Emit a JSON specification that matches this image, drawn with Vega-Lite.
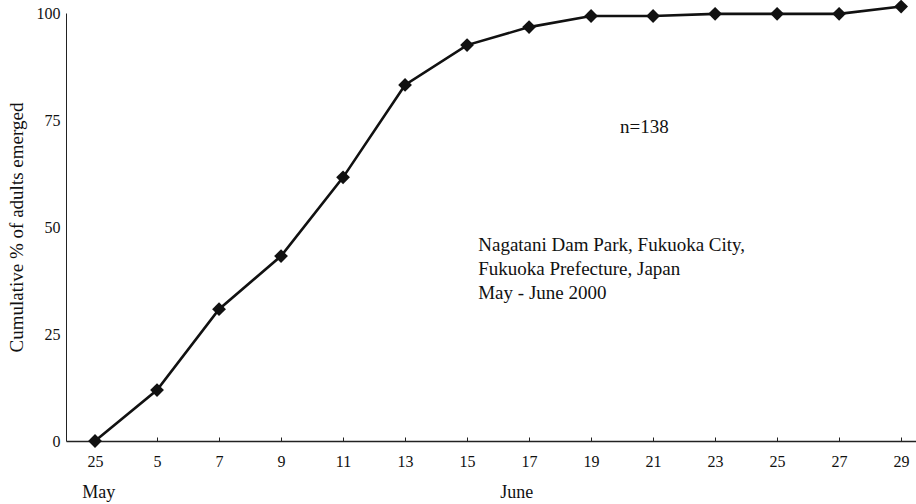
{
  "$schema": "https://vega.github.io/schema/vega-lite/v6.json",
  "width": 850,
  "height": 428,
  "autosize": {"type": "none"},
  "padding": {"left": 66, "top": 13, "right": 0, "bottom": 63},
  "background": "white",
  "config": {
    "view": {"stroke": null},
    "font": "Liberation Serif",
    "text": {"font": "Liberation Serif"},
    "axis": {"grid": false, "labelFont": "Liberation Serif", "titleFont": "Liberation Serif", "labelColor": "#111", "titleColor": "#111", "domainColor": "#222"}
  },
  "datasets": {
    "emergence": [
      {"i": 0, "day": "25", "month": "May", "pct": 0},
      {"i": 1, "day": "5", "month": "June", "pct": 11.9},
      {"i": 2, "day": "7", "month": "June", "pct": 30.8},
      {"i": 3, "day": "9", "month": "June", "pct": 43.2},
      {"i": 4, "day": "11", "month": "June", "pct": 61.6},
      {"i": 5, "day": "13", "month": "June", "pct": 83.2},
      {"i": 6, "day": "15", "month": "June", "pct": 92.5},
      {"i": 7, "day": "17", "month": "June", "pct": 96.7},
      {"i": 8, "day": "19", "month": "June", "pct": 99.3},
      {"i": 9, "day": "21", "month": "June", "pct": 99.3},
      {"i": 10, "day": "23", "month": "June", "pct": 99.8},
      {"i": 11, "day": "25", "month": "June", "pct": 99.8},
      {"i": 12, "day": "27", "month": "June", "pct": 99.8},
      {"i": 13, "day": "29", "month": "June", "pct": 101.5}
    ],
    "months": [
      {"i": 0.06, "pct": -12.2, "label": "May"},
      {"i": 6.8, "pct": -12.2, "label": "June"}
    ],
    "count": [
      {"i": 8.86, "pct": 73.4, "label": "n=138"}
    ],
    "site": [
      {"i": 6.18, "pct": 45.8, "label": ["Nagatani Dam Park, Fukuoka City,", "Fukuoka Prefecture, Japan", "May - June 2000"]}
    ]
  },
  "layer": [
    {
      "data": {"name": "emergence"},
      "mark": {"type": "line", "color": "#111", "strokeWidth": 2.6},
      "encoding": {
        "x": {
          "field": "i", "type": "quantitative",
          "scale": {"domain": [-0.468, 13.24], "nice": false, "zero": false},
          "axis": {
            "title": null,
            "values": [0,1,2,3,4,5,6,7,8,9,10,11,12,13],
            "labelExpr": "['25','5','7','9','11','13','15','17','19','21','23','25','27','29'][datum.value]",
            "tickSize": -4, "tickColor": "#222", "labelFontSize": 16, "labelPadding": 16, "domainWidth": 1.5
          }
        },
        "y": {
          "field": "pct", "type": "quantitative",
          "scale": {"domain": [0, 100], "nice": false},
          "axis": {
            "title": "Cumulative % of adults emerged",
            "values": [0, 25, 50, 75, 100],
            "ticks": false, "labelFontSize": 16, "labelPadding": 6,
            "titleFontSize": 19, "titleFontWeight": "normal", "titlePadding": 10
          }
        }
      }
    },
    {
      "data": {"name": "emergence"},
      "mark": {"type": "point", "shape": "diamond", "filled": true, "color": "#111", "size": 190, "opacity": 1},
      "encoding": {
        "x": {"field": "i", "type": "quantitative"},
        "y": {"field": "pct", "type": "quantitative"}
      }
    },
    {
      "data": {"name": "months"},
      "mark": {"type": "text", "font": "Liberation Serif", "fontSize": 18, "color": "#111", "align": "center", "baseline": "middle"},
      "encoding": {
        "x": {"field": "i", "type": "quantitative"},
        "y": {"field": "pct", "type": "quantitative"},
        "text": {"field": "label"}
      }
    },
    {
      "data": {"name": "count"},
      "mark": {"type": "text", "font": "Liberation Serif", "fontSize": 19, "color": "#111", "align": "center", "baseline": "middle"},
      "encoding": {
        "x": {"field": "i", "type": "quantitative"},
        "y": {"field": "pct", "type": "quantitative"},
        "text": {"field": "label"}
      }
    },
    {
      "data": {"name": "site"},
      "mark": {"type": "text", "font": "Liberation Serif", "fontSize": 19, "color": "#111", "align": "left", "baseline": "middle", "lineHeight": 24},
      "encoding": {
        "x": {"field": "i", "type": "quantitative"},
        "y": {"field": "pct", "type": "quantitative"},
        "text": {"field": "label"}
      }
    }
  ]
}
